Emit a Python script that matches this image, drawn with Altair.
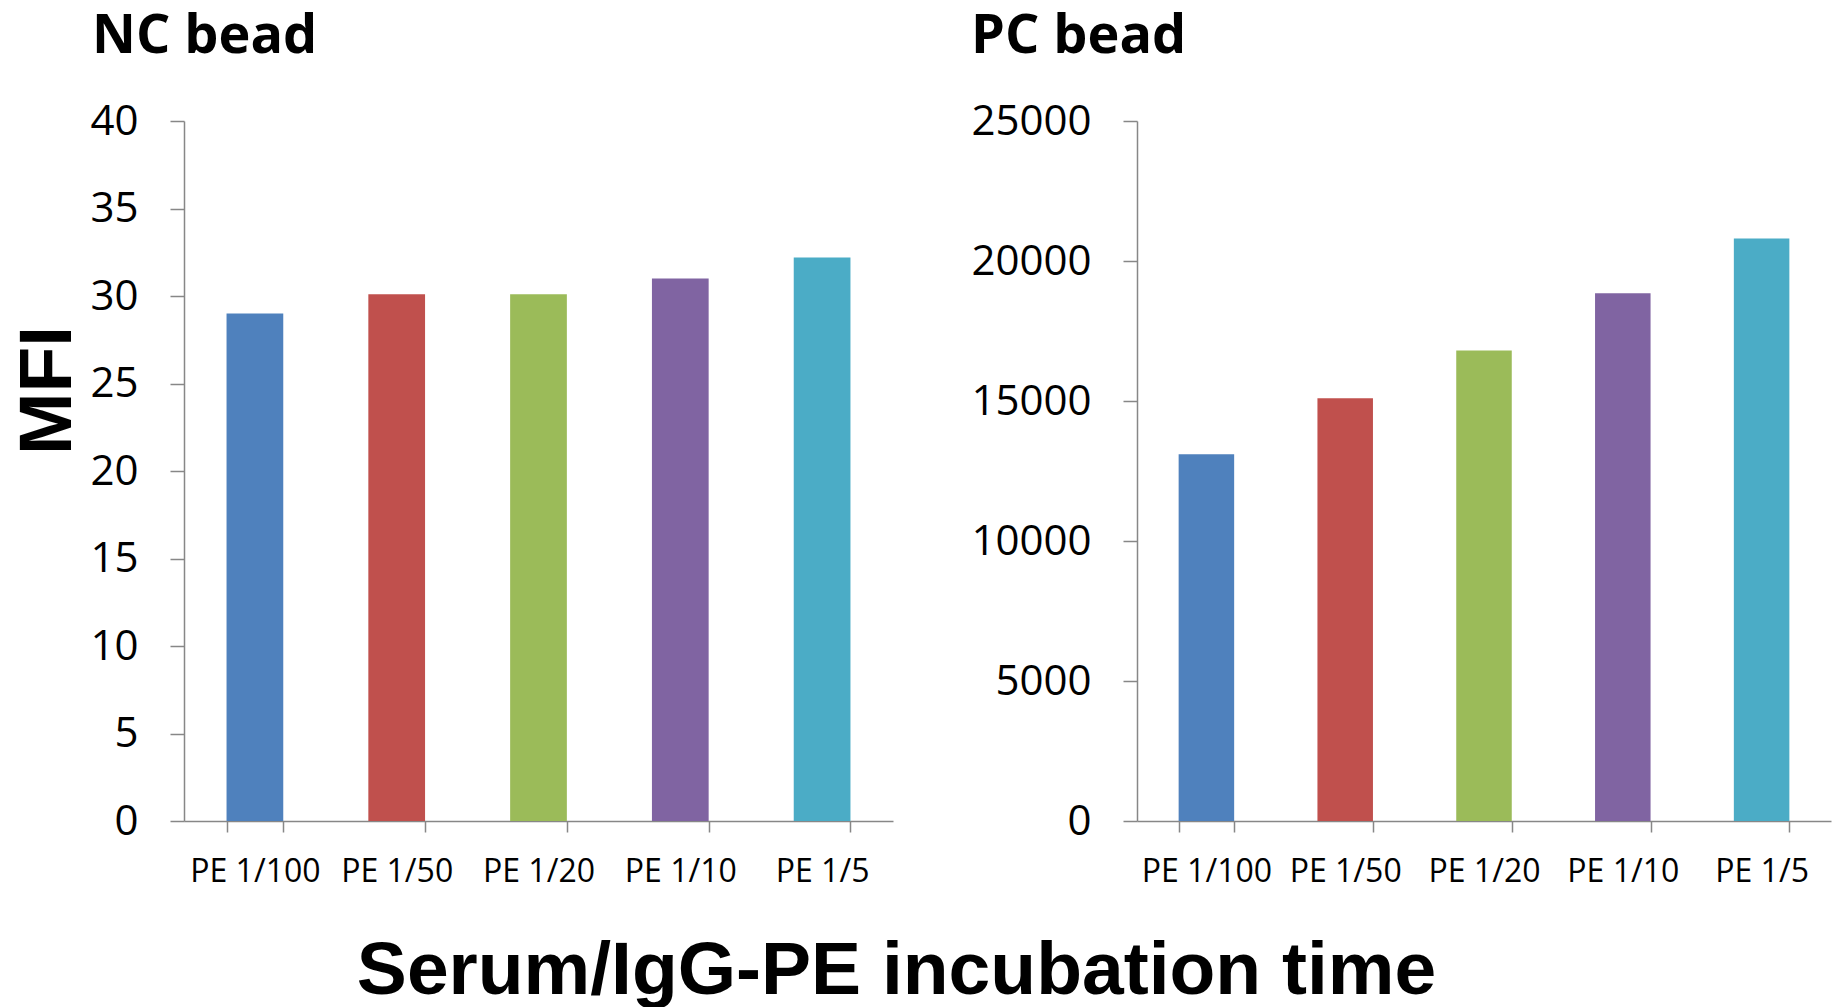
import altair as alt
import pandas as pd

# Serum / IgG-PE dilution series measured on the negative- and positive-control beads
dilutions = ["PE 1/100", "PE 1/50", "PE 1/20", "PE 1/10", "PE 1/5"]
nc_mfi = [29.0, 30.1, 30.1, 31.0, 32.2]
pc_mfi = [13100, 15100, 16800, 18850, 20800]
bar_colors = ["#4F81BD", "#C0504D", "#9BBB59", "#8064A2", "#4BACC6"]

nc_df = pd.DataFrame({"dilution": dilutions, "mfi": nc_mfi})
pc_df = pd.DataFrame({"dilution": dilutions, "mfi": pc_mfi})

AXIS_GREY = "#878787"
LABEL_FONT = "Open Sans"
BIG_FONT = "Liberation Sans"
PLOT_H = 700


def panel(df, title, title_dx, y_max, y_step, width, x_title_opts, y_title_opts):
    x_axis = alt.Axis(
        labelAngle=0,
        tickBand="extent",
        tickSize=11,
        tickWidth=1.5,
        tickColor=AXIS_GREY,
        domainColor=AXIS_GREY,
        domainWidth=1.5,
        labelFont=LABEL_FONT,
        labelFontSize=32,
        labelColor="black",
        labelBaseline="alphabetic",
        labelPadding=49,
        grid=False,
        **x_title_opts,
    )
    y_axis = alt.Axis(
        values=list(range(0, y_max + 1, y_step)),
        format="d",
        tickSize=14,
        tickWidth=1.5,
        tickColor=AXIS_GREY,
        domainColor=AXIS_GREY,
        domainWidth=1.5,
        labelFont=LABEL_FONT,
        labelFontSize=42,
        labelColor="black",
        labelPadding=32,
        grid=False,
        **y_title_opts,
    )
    return (
        alt.Chart(df)
        .mark_bar()
        .encode(
            x=alt.X(
                "dilution:N",
                sort=dilutions,
                scale=alt.Scale(paddingInner=0.6, paddingOuter=0.3),
                axis=x_axis,
            ),
            y=alt.Y(
                "mfi:Q",
                scale=alt.Scale(domain=[0, y_max], nice=False),
                axis=y_axis,
            ),
            color=alt.Color(
                "dilution:N",
                scale=alt.Scale(domain=dilutions, range=bar_colors),
                legend=None,
            ),
        )
        .properties(
            width=width,
            height=PLOT_H,
            title=alt.TitleParams(
                text=title,
                anchor="start",
                frame="group",
                dx=title_dx,
                dy=7,
                offset=0,
                baseline="alphabetic",
                font=LABEL_FONT,
                fontSize=54,
                fontWeight="bold",
                color="black",
            ),
        )
    )


big_title = dict(
    titleFont=BIG_FONT,
    titleFontSize=75,
    titleFontWeight="bold",
    titleColor="black",
    titleAlign="center",
    titleBaseline="alphabetic",
)

nc_chart = panel(
    nc_df,
    "NC bead",
    -92,
    40,
    5,
    709,
    dict(title="Serum/IgG-PE incubation time", titleX=712, titleY=172, **big_title),
    dict(title="MFI", titleAngle=270, titleX=-114, titleY=269, **big_title),
)

pc_chart = panel(
    pc_df,
    "PC bead",
    -166,
    25000,
    5000,
    694,
    dict(title=None),
    dict(title=None),
)

chart = (
    alt.hconcat(nc_chart, pc_chart, spacing=244, bounds="flush")
    .properties(
        autosize=alt.AutoSizeParams(type="none"),
        padding={"left": 184, "top": 121, "right": 1657, "bottom": 886},
        background="white",
    )
    .configure_view(strokeWidth=0)
)

chart.save("out.html", embed_options={"renderer": "svg", "actions": False})
